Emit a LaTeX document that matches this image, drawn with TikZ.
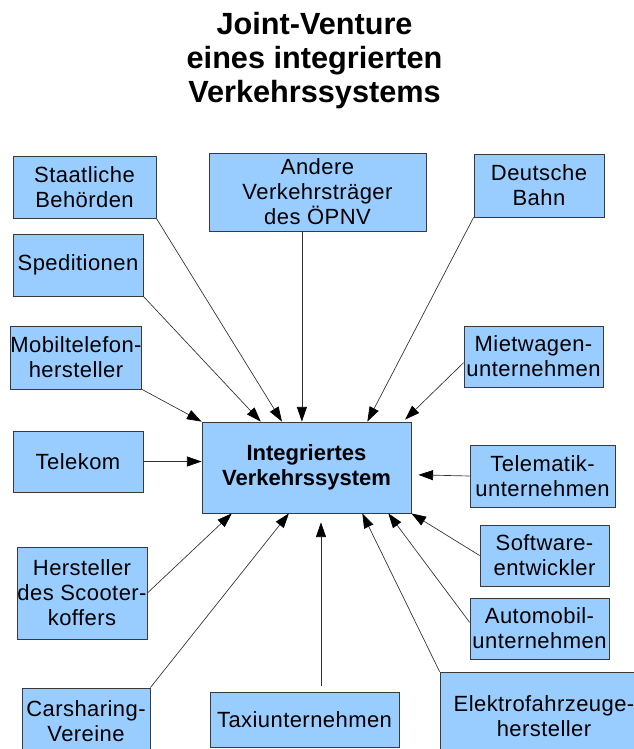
\documentclass[tikz,border=0pt]{standalone}
\usepackage{fontspec}
\setmainfont{Liberation Sans}
\newfontfamily\boxfont{Liberation Sans}[LetterSpace=2]
\usetikzlibrary{arrows.meta,calc}
\definecolor{boxblue}{HTML}{99CCFF}
\definecolor{boxline}{HTML}{3A3A3A}
\definecolor{arrline}{HTML}{303030}
\begin{document}
\begin{tikzpicture}[x=0.75pt,y=-0.75pt,
  box/.style={draw=boxline, line width=0.6pt, fill=boxblue, inner sep=0pt, align=center,
    font=\boxfont\fontsize{16.5}{18.75}\selectfont},
  conn/.style={draw=arrline, line width=0.5pt,
    -{Triangle[length=11pt,width=7.5pt,color=black]}}]
\useasboundingbox (0,0) rectangle (634,749);
\fill[white] (0,0) rectangle (634,749);

\node[font=\bfseries\fontsize{23}{25.5}\selectfont, align=center] (title) at (314.5,61)
  {Joint-Venture\\eines integrierten\\Verkehrssystems};

\node[box, minimum width=107.25pt, minimum height=46.5pt] (stb) at (84.5,187) {Staatliche\\Behörden};
\node[box, minimum width=162.75pt, minimum height=58.5pt] (opnv) at (317.5,192) {Andere\\Verkehrsträger\\des ÖPNV};
\node[box, minimum width=97.5pt, minimum height=47.25pt] (db) at (539,185.5) {Deutsche\\Bahn};
\node[box, minimum width=97.5pt, minimum height=46.5pt] (sped) at (78,265) {Speditionen};
\node[box, minimum width=96pt, minimum height=47.25pt] (mob) at (76,357.5) {Mobiltelefon-\\hersteller};
\node[box, minimum width=104.25pt, minimum height=45.75pt] (miet) at (533.5,356.5) {Mietwagen-\\unternehmen};
\node[box, minimum width=97.5pt, minimum height=45.75pt] (tel) at (78,461.5) {Telekom};
\node[box, font=\rmfamily\bfseries\fontsize{16.5}{19}\selectfont, minimum width=156.75pt, minimum height=68.25pt] (ivs) at (306.5,467.5) {Integriertes\\Verkehrssystem};
\node[box, minimum width=108.75pt, minimum height=46.5pt] (telm) at (542.5,476) {Telematik-\\unternehmen};
\node[box, minimum width=96.75pt, minimum height=45.75pt] (soft) at (544.5,555.5) {Software-\\entwickler};
\node[box, minimum width=104.25pt, minimum height=45.75pt] (auto) at (539.5,628.5) {Automobil-\\unternehmen};
\node[box, minimum width=156pt, minimum height=66pt] (elek) at (544,716) {Elektrofahrzeuge-\\hersteller};
\node[box, minimum width=141.75pt, minimum height=41.25pt] (taxi) at (304.5,719.5) {Taxiunternehmen};
\node[box, minimum width=97.5pt, minimum height=69pt] (scoot) at (82,593) {Hersteller\\des Scooter-\\koffers};
\node[box, minimum width=96pt, minimum height=49.5pt] (car) at (86,721) {Carsharing-\\Vereine};

% arrow tips on the central box
\coordinate (tSped) at ($(ivs.north west)!0.282!(ivs.north east)$);
\coordinate (tStb) at ($(ivs.north west)!0.383!(ivs.north east)$);
\coordinate (tOp) at ($(ivs.north west)!0.478!(ivs.north east)$);
\coordinate (tDb) at ($(ivs.north west)!0.79!(ivs.north east)$);
\coordinate (tMiet) at ($(ivs.north west)!0.97!(ivs.north east)+(0,-2)$);
\coordinate (tTelm) at ($(ivs.north east)!0.58!(ivs.south east)+(7,0)$);
\coordinate (tAuto) at ($(ivs.south west)!0.89!(ivs.south east)$);
\coordinate (tElek) at ($(ivs.south west)!0.766!(ivs.south east)$);
\coordinate (tTaxi) at ($(ivs.south west)!0.569!(ivs.south east)+(0,9)$);
\coordinate (tCar) at ($(ivs.south west)!0.416!(ivs.south east)$);
\coordinate (tScoot) at ($(ivs.south west)!0.144!(ivs.south east)$);

\draw[conn] (stb.south east) -- (tStb);
\draw[conn] (sped.south east) -- (tSped);
\draw[conn] (mob.south east) -- (ivs.north west);
\draw[conn] (opnv.south -| tOp) -- (tOp);
\draw[conn] (db.south west) -- (tDb);
\draw[conn] ($(miet.north west)!0.6!(miet.south west)$) -- (tMiet);
\draw[conn] (tel.east) -- (ivs.west |- tel.east);
\draw[conn] (telm.west) -- (tTelm);
\draw[conn] (soft.west) -- (ivs.south east);
\draw[conn] ($(auto.north west)!0.4!(auto.south west)$) -- (tAuto);
\draw[conn] (elek.north west) -- (tElek);
\draw[conn] ($(taxi.north -| tTaxi)+(0,-6)$) -- (tTaxi);
\draw[conn] (car.north east) -- (tCar);
\draw[conn] (scoot.east) -- (tScoot);
\end{tikzpicture}
\end{document}
